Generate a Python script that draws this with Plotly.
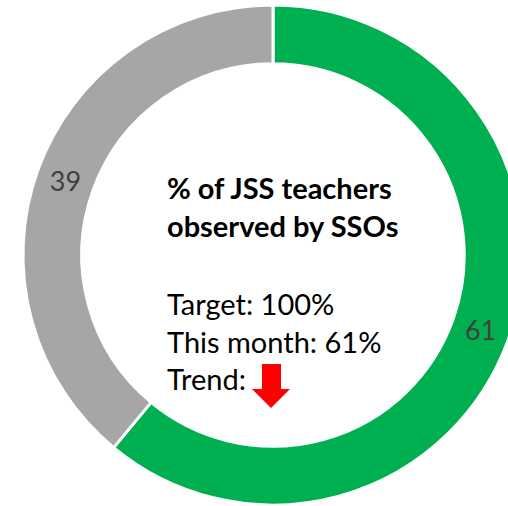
import plotly.graph_objects as go

# ---- data ----
labels = ["Observed", "Not observed"]
values = [61, 39]
colors = ["#00B050", "#A6A6A6"]
title_lines = ["% of JSS teachers", "observed by SSOs"]
info_lines = ["Target: 100%", "This month: 61%", "Trend:"]

W, H = 546, 506  # canvas a bit wider than window so ring is clipped on the right like reference


def px(x):
    return x / W


def py(y):
    return 1 - y / H


fig = go.Figure(go.Pie(
    labels=labels,
    values=values,
    marker=dict(colors=colors, line=dict(color="white", width=3)),
    hole=0.765,
    sort=False,
    direction="clockwise",
    rotation=0,
    textinfo="value",
    textposition="inside",
    insidetextorientation="horizontal",
    textfont=dict(family="Lato", size=27, color="#404040"),
    domain=dict(x=[0, 1], y=[1 / H, 501 / H]),
    showlegend=False,
    hoverinfo="label+value",
))

annos = []
title_baselines = [197, 235]
for t, b in zip(title_lines, title_baselines):
    annos.append(dict(text="<b>" + t + "</b>", x=px(165), y=py(b + 10), xref="paper", yref="paper",
                      xanchor="left", yanchor="bottom", showarrow=False,
                      font=dict(family="Lato", size=29, color="black")))
info_baselines = [313, 351, 388]
for t, b in zip(info_lines, info_baselines):
    annos.append(dict(text=t, x=px(165), y=py(b + 10), xref="paper", yref="paper",
                      xanchor="left", yanchor="bottom", showarrow=False,
                      font=dict(family="Lato", size=29, color="black")))

# red down arrow
pts = [(262, 364), (281, 364), (281, 389), (290, 389), (271, 408), (252, 389), (262, 389)]
path = "M " + " L ".join(f"{px(x):.5f},{py(y):.5f}" for x, y in pts) + " Z"
shapes = [dict(type="path", path=path, xref="paper", yref="paper",
               fillcolor="#FF0000", line=dict(width=0))]

fig.update_layout(
    width=W, height=H,
    margin=dict(l=0, r=0, t=0, b=0),
    paper_bgcolor="white",
    plot_bgcolor="white",
    annotations=annos,
    shapes=shapes,
)

fig.write_html("out.html", config={"displayModeBar": False},
               post_script="document.body.style.margin='0';document.body.style.overflow='hidden';")
